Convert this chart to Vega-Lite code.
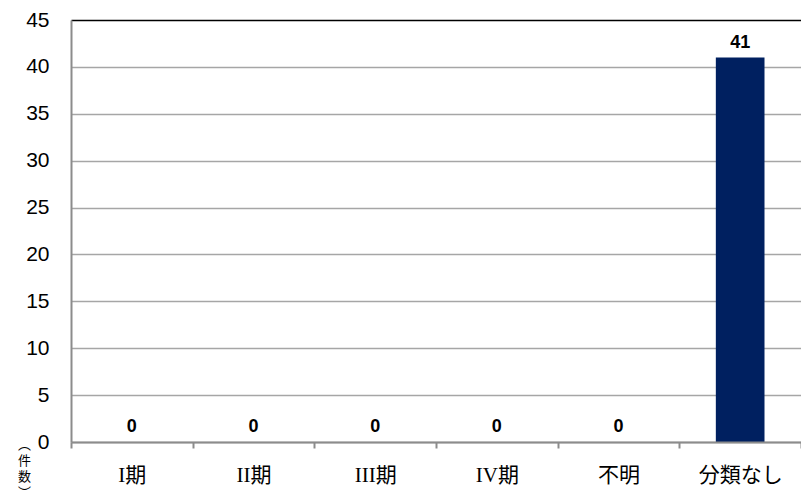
{
  "$schema": "https://vega.github.io/schema/vega-lite/v6.json",
  "width": 730,
  "height": 422,
  "autosize": {"type": "none"},
  "padding": {"left": 71, "top": 20, "right": 0, "bottom": 58},
  "data": {
    "values": [
      {"category": "I期", "count": 0},
      {"category": "II期", "count": 0},
      {"category": "III期", "count": 0},
      {"category": "IV期", "count": 0},
      {"category": "不明", "count": 0},
      {"category": "分類なし", "count": 41}
    ]
  },
  "config": {
    "view": {"stroke": null},
    "font": "Noto Sans CJK JP"
  },
  "encoding": {
    "x": {
      "field": "category",
      "type": "nominal",
      "sort": null,
      "scale": {"paddingInner": 0, "paddingOuter": 0},
      "axis": {
        "title": null,
        "labelAngle": 0,
        "labelFont": "Liberation Serif, Noto Sans CJK JP",
        "labelFontSize": 21,
        "labelColor": "#000000",
        "labelPadding": 16,
        "tickBand": "extent",
        "ticks": true,
        "tickSize": 6,
        "tickColor": "#8c8c8c",
        "tickWidth": 2,
        "domainColor": "#8c8c8c",
        "domainWidth": 2,
        "grid": false,
        "zindex": 2
      }
    },
    "y": {
      "field": "count",
      "type": "quantitative",
      "scale": {"domain": [0, 45], "nice": false},
      "axis": {
        "values": [0, 5, 10, 15, 20, 25, 30, 35, 40, 45],
        "title": ["︵", "件", "数", "︶"],
        "titleAngle": 0,
        "titleFontSize": 13,
        "titleFontWeight": "normal",
        "titleLineHeight": 16,
        "titleX": -47,
        "titleY": 418,
        "titleAlign": "center",
        "titleBaseline": "top",
        "titleColor": "#000000",
        "labelFont": "Liberation Sans",
        "labelFontSize": 21,
        "labelColor": "#000000",
        "labelPadding": 22,
        "ticks": false,
        "domainColor": "#8c8c8c",
        "domainWidth": 2,
        "grid": true,
        "gridColor": {"condition": {"test": "datum.value === 45", "value": "#000000"}, "value": "#a6a6a6"},
        "gridWidth": 1.5,
        "gridOpacity": 1
      }
    }
  },
  "layer": [
    {"mark": {"type": "bar", "color": "#002060", "width": {"band": 0.4}}},
    {
      "mark": {"type": "text", "fontWeight": "bold", "fontSize": 18, "dy": -6, "baseline": "bottom", "font": "Liberation Sans", "color": "#000000"},
      "encoding": {"text": {"field": "count", "type": "quantitative"}}
    }
  ]
}
